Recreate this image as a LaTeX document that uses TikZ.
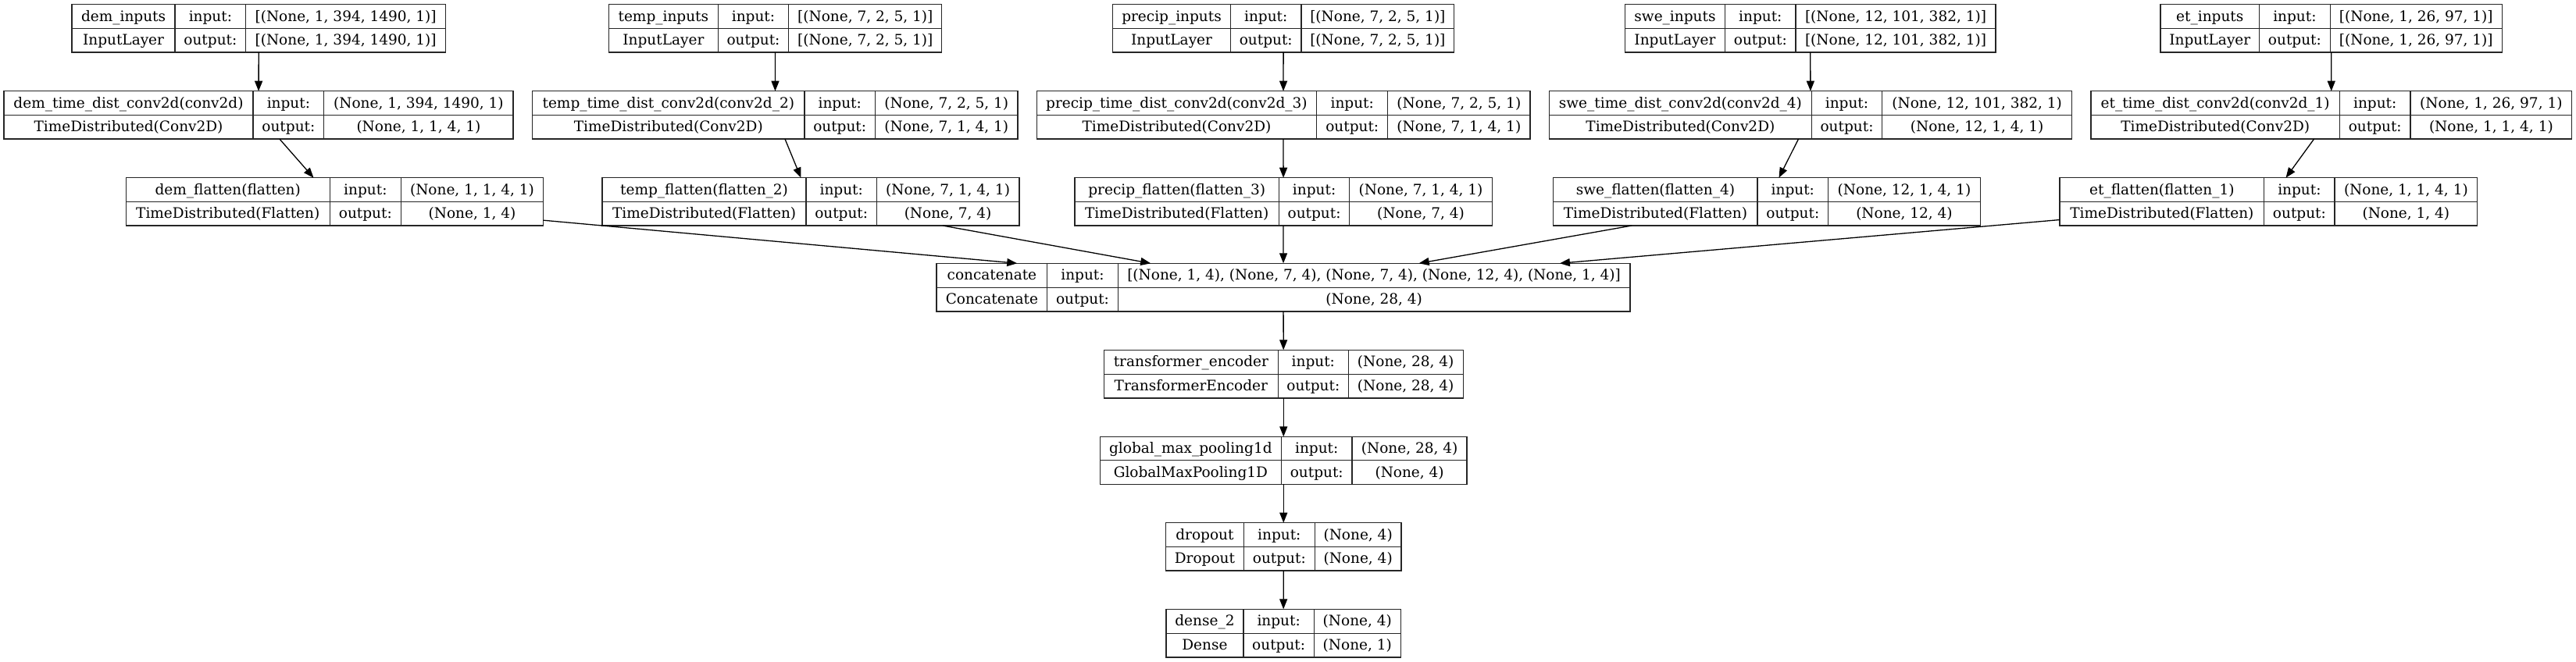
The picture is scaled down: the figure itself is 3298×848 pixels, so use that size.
\documentclass[tikz,border=0pt]{standalone}
\usepackage{fontspec}
\setmainfont{DejaVu Serif}
\usetikzlibrary{arrows.meta}
\tikzset{
  lay/.style={draw=black!85, fill=white, line width=1.3pt, inner sep=0pt, outer sep=0pt, rectangle},
  cell/.style={draw=black!85, line width=1.3pt},
  txt/.style={inner sep=0pt, anchor=base, font=\fontsize{18.5}{22}\selectfont},
  arr/.style={draw=black, line width=1.3pt, -{Triangle[length=13pt,width=10pt]}},
}
\newcommand\geom[6]{\def\xl{#1}\def\da{#2}\def\db{#3}\def\xr{#4}\def\yt{#5}\def\yb{#6}}
\newcommand\lbox[5]{%
  \pgfmathsetmacro\ym{(\yt+\yb)/2}%
  \pgfmathsetmacro\ra{(\yt+\ym)/2+6}%
  \pgfmathsetmacro\rb{(\ym+\yb)/2+6}%
  \pgfmathsetmacro\ca{(\xl+\da)/2}%
  \pgfmathsetmacro\cb{(\da+\db)/2}%
  \pgfmathsetmacro\cc{(\db+\xr)/2}%
  \node[lay, minimum width={\xr-\xl}, minimum height={\yb-\yt}] (#1) at ({(\xl+\xr)/2},\ym) {};
  \draw[cell] (\da,\yt) -- (\da,\yb) (\db,\yt) -- (\db,\yb) (\xl,\ym) -- (\xr,\ym);
  \node[txt] (#1-n) at (\ca,\ra) {#2};
  \node[txt] (#1-c) at (\ca,\rb) {#3};
  \node[txt] (#1-i) at (\cb,\ra) {input:};
  \node[txt] (#1-o) at (\cb,\rb) {output:};
  \node[txt] (#1-s) at (\cc,\ra) {#4};
  \node[txt] (#1-t) at (\cc,\rb) {#5};
}
\begin{document}
\begin{tikzpicture}[x=1pt,y=-1pt]
\useasboundingbox (0,0) rectangle (3298,848);
% row 1
\geom{92.0}{224.1}{314.7}{570.5}{5.7}{67}
\lbox{demin}{dem\_inputs}{InputLayer}{[(None, 1, 394, 1490, 1)]}{[(None, 1, 394, 1490, 1)]}
\geom{779.5}{919.2}{1009.8}{1205.8}{5.7}{67}
\lbox{tempin}{temp\_inputs}{InputLayer}{[(None, 7, 2, 5, 1)]}{[(None, 7, 2, 5, 1)]}
\geom{1424.6}{1575.4}{1666.1}{1861.6}{5.7}{67}
\lbox{precin}{precip\_inputs}{InputLayer}{[(None, 7, 2, 5, 1)]}{[(None, 7, 2, 5, 1)]}
\geom{2080.4}{2208.5}{2299.1}{2554.9}{5.7}{67}
\lbox{swein}{swe\_inputs}{InputLayer}{[(None, 12, 101, 382, 1)]}{[(None, 12, 101, 382, 1)]}
\geom{2766}{2892.5}{2983.3}{3203.2}{5.7}{67}
\lbox{etin}{et\_inputs}{InputLayer}{[(None, 1, 26, 97, 1)]}{[(None, 1, 26, 97, 1)]}
% row 2
\geom{4.9}{324.1}{414.7}{657.1}{116.7}{178}
\lbox{demconv}{dem\_time\_dist\_conv2d(conv2d)}{TimeDistributed(Conv2D)}{(None, 1, 394, 1490, 1)}{(None, 1, 1, 4, 1)}
\geom{681.7}{1029.9}{1120.5}{1303.1}{116.7}{178}
\lbox{tempconv}{temp\_time\_dist\_conv2d(conv2d\_2)}{TimeDistributed(Conv2D)}{(None, 7, 2, 5, 1)}{(None, 7, 1, 4, 1)}
\geom{1327.2}{1685.7}{1776.8}{1958.9}{116.7}{178}
\lbox{precconv}{precip\_time\_dist\_conv2d(conv2d\_3)}{TimeDistributed(Conv2D)}{(None, 7, 2, 5, 1)}{(None, 7, 1, 4, 1)}
\geom{1983.5}{2319.2}{2409.8}{2652.5}{116.7}{178}
\lbox{sweconv}{swe\_time\_dist\_conv2d(conv2d\_4)}{TimeDistributed(Conv2D)}{(None, 12, 101, 382, 1)}{(None, 12, 1, 4, 1)}
\geom{2677}{2995.3}{3086.1}{3292.6}{116.7}{178}
\lbox{etconv}{et\_time\_dist\_conv2d(conv2d\_1)}{TimeDistributed(Conv2D)}{(None, 1, 26, 97, 1)}{(None, 1, 1, 4, 1)}
% row 3
\geom{161.2}{422.3}{513.4}{695.5}{227.7}{289}
\lbox{demflat}{dem\_flatten(flatten)}{TimeDistributed(Flatten)}{(None, 1, 1, 4, 1)}{(None, 1, 4)}
\geom{771}{1032.1}{1122.3}{1304.9}{227.7}{289}
\lbox{tempflat}{temp\_flatten(flatten\_2)}{TimeDistributed(Flatten)}{(None, 7, 1, 4, 1)}{(None, 7, 4)}
\geom{1375.9}{1637.5}{1727.7}{1910.3}{227.7}{289}
\lbox{precflat}{precip\_flatten(flatten\_3)}{TimeDistributed(Flatten)}{(None, 7, 1, 4, 1)}{(None, 7, 4)}
\geom{1988.8}{2250}{2340.6}{2535.3}{227.7}{289}
\lbox{sweflat}{swe\_flatten(flatten\_4)}{TimeDistributed(Flatten)}{(None, 12, 1, 4, 1)}{(None, 12, 4)}
\geom{2637}{2898.7}{2989.1}{3171.6}{227.7}{289}
\lbox{etflat}{et\_flatten(flatten\_1)}{TimeDistributed(Flatten)}{(None, 1, 1, 4, 1)}{(None, 1, 4)}
% trunk
\geom{1199.1}{1340.7}{1431.3}{2086.9}{337.3}{399}
\lbox{concat}{concatenate}{Concatenate}{[(None, 1, 4), (None, 7, 4), (None, 7, 4), (None, 12, 4), (None, 1, 4)]}{(None, 28, 4)}
\geom{1413.3}{1636.4}{1726.2}{1873.2}{448.3}{510}
\lbox{trans}{transformer\_encoder}{TransformerEncoder}{(None, 28, 4)}{(None, 28, 4)}
\geom{1408.4}{1640.3}{1731.1}{1878.1}{559.3}{620.3}
\lbox{gmp}{global\_max\_pooling1d}{GlobalMaxPooling1D}{(None, 28, 4)}{(None, 4)}
\geom{1492.6}{1592.2}{1683.4}{1793.9}{669.7}{731}
\lbox{drop}{dropout}{Dropout}{(None, 4)}{(None, 4)}
\geom{1493}{1591.9}{1682.4}{1793.2}{780.3}{842}
\lbox{dense}{dense\_2}{Dense}{(None, 4)}{(None, 1)}
% edges
\foreach \p in {dem,temp,prec,swe,et}{
  \draw[arr] (\p in) -- (\p conv);
  \draw[arr] (\p conv) -- (\p flat);
  \draw[arr] (\p flat) -- (concat);
}
\draw[arr] (concat) -- (trans);
\draw[arr] (trans) -- (gmp);
\draw[arr] (gmp) -- (drop);
\draw[arr] (drop) -- (dense);
\end{tikzpicture}
\end{document}
